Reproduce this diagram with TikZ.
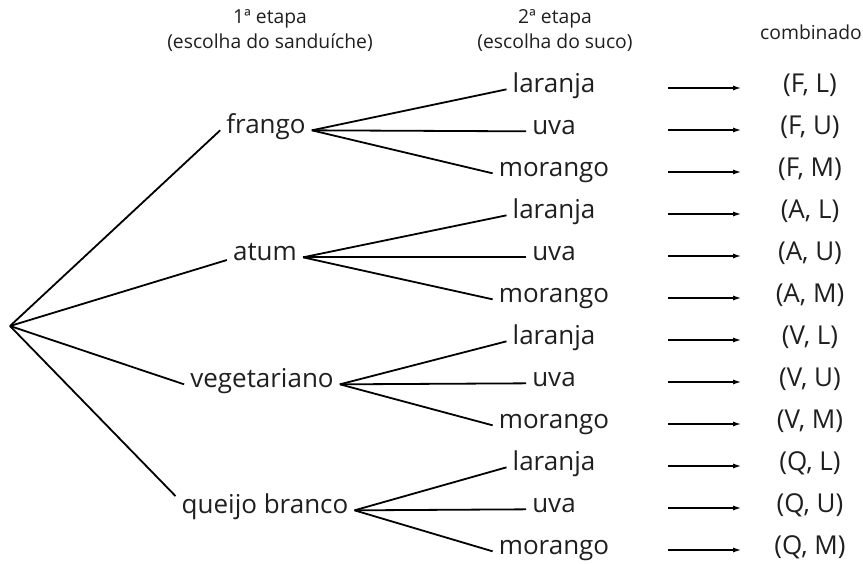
\documentclass[tikz,border=0pt]{standalone}
\usepackage{fontspec}
\setmainfont{Open Sans}
\usetikzlibrary{arrows.meta,positioning}

\begin{document}
\begin{tikzpicture}[x=1pt, y=-1pt, every node/.style={font=\fontsize{26}{30}\selectfont, inner xsep=6pt, inner ysep=3pt, text=black!88}]
\tikzset{head/.style={font=\fontsize{19.3}{25}\selectfont, align=center}}
\tikzset{branch/.style={line width=1.8pt}}
\tikzset{arrow/.style={-{Latex[length=9pt, width=5pt]}, line width=1.8pt}}
\useasboundingbox (0,0) rectangle (863,563);
\node[head] (head1) at (270,31) {1ª etapa\\(escolha do sanduíche)};
\node[head] (head2) at (555,31) {2ª etapa\\(escolha do suco)};
\node[head] (head3) at (811,32) {combinado};
\coordinate (root) at (10,326);
\node[anchor=base] (frango) at (266,133) {frango};
\node[anchor=base] (atum) at (265,260) {atum};
\node[anchor=base] (veg) at (262,387) {vegetariano};
\node[anchor=base] (queijo) at (265,513) {queijo branco};
\draw[branch] (root) -- (frango.mid west);
\draw[branch] (root) -- (atum.base west);
\draw[branch] (root) -- (veg.mid west);
\draw[branch] (root) -- ([yshift=-6pt]queijo.north west);
% second stage and combinations
\foreach \n/\s [count=\k from 0] in {frango/F, atum/A, veg/V, queijo/Q}{
  \foreach \j/\c [count=\r from 0] in {laranja/L, uva/U, morango/M}{
    \pgfmathsetmacro{\yb}{92+126*\k+42*\r}
    \node[anchor=base] (\s\c) at (554,\yb) {\j};
    \draw[branch] (\n.mid east) -- (\s\c.mid west);
    \coordinate (s\s\c) at (668,\yb-4);
    \coordinate (e\s\c) at (742,\yb-4);
    \draw[arrow] (s\s\c) -- (e\s\c);
    \node[anchor=base] (c\s\c) at (810,\yb) {(\s, \c)};
  }
}
\end{tikzpicture}
\end{document}
